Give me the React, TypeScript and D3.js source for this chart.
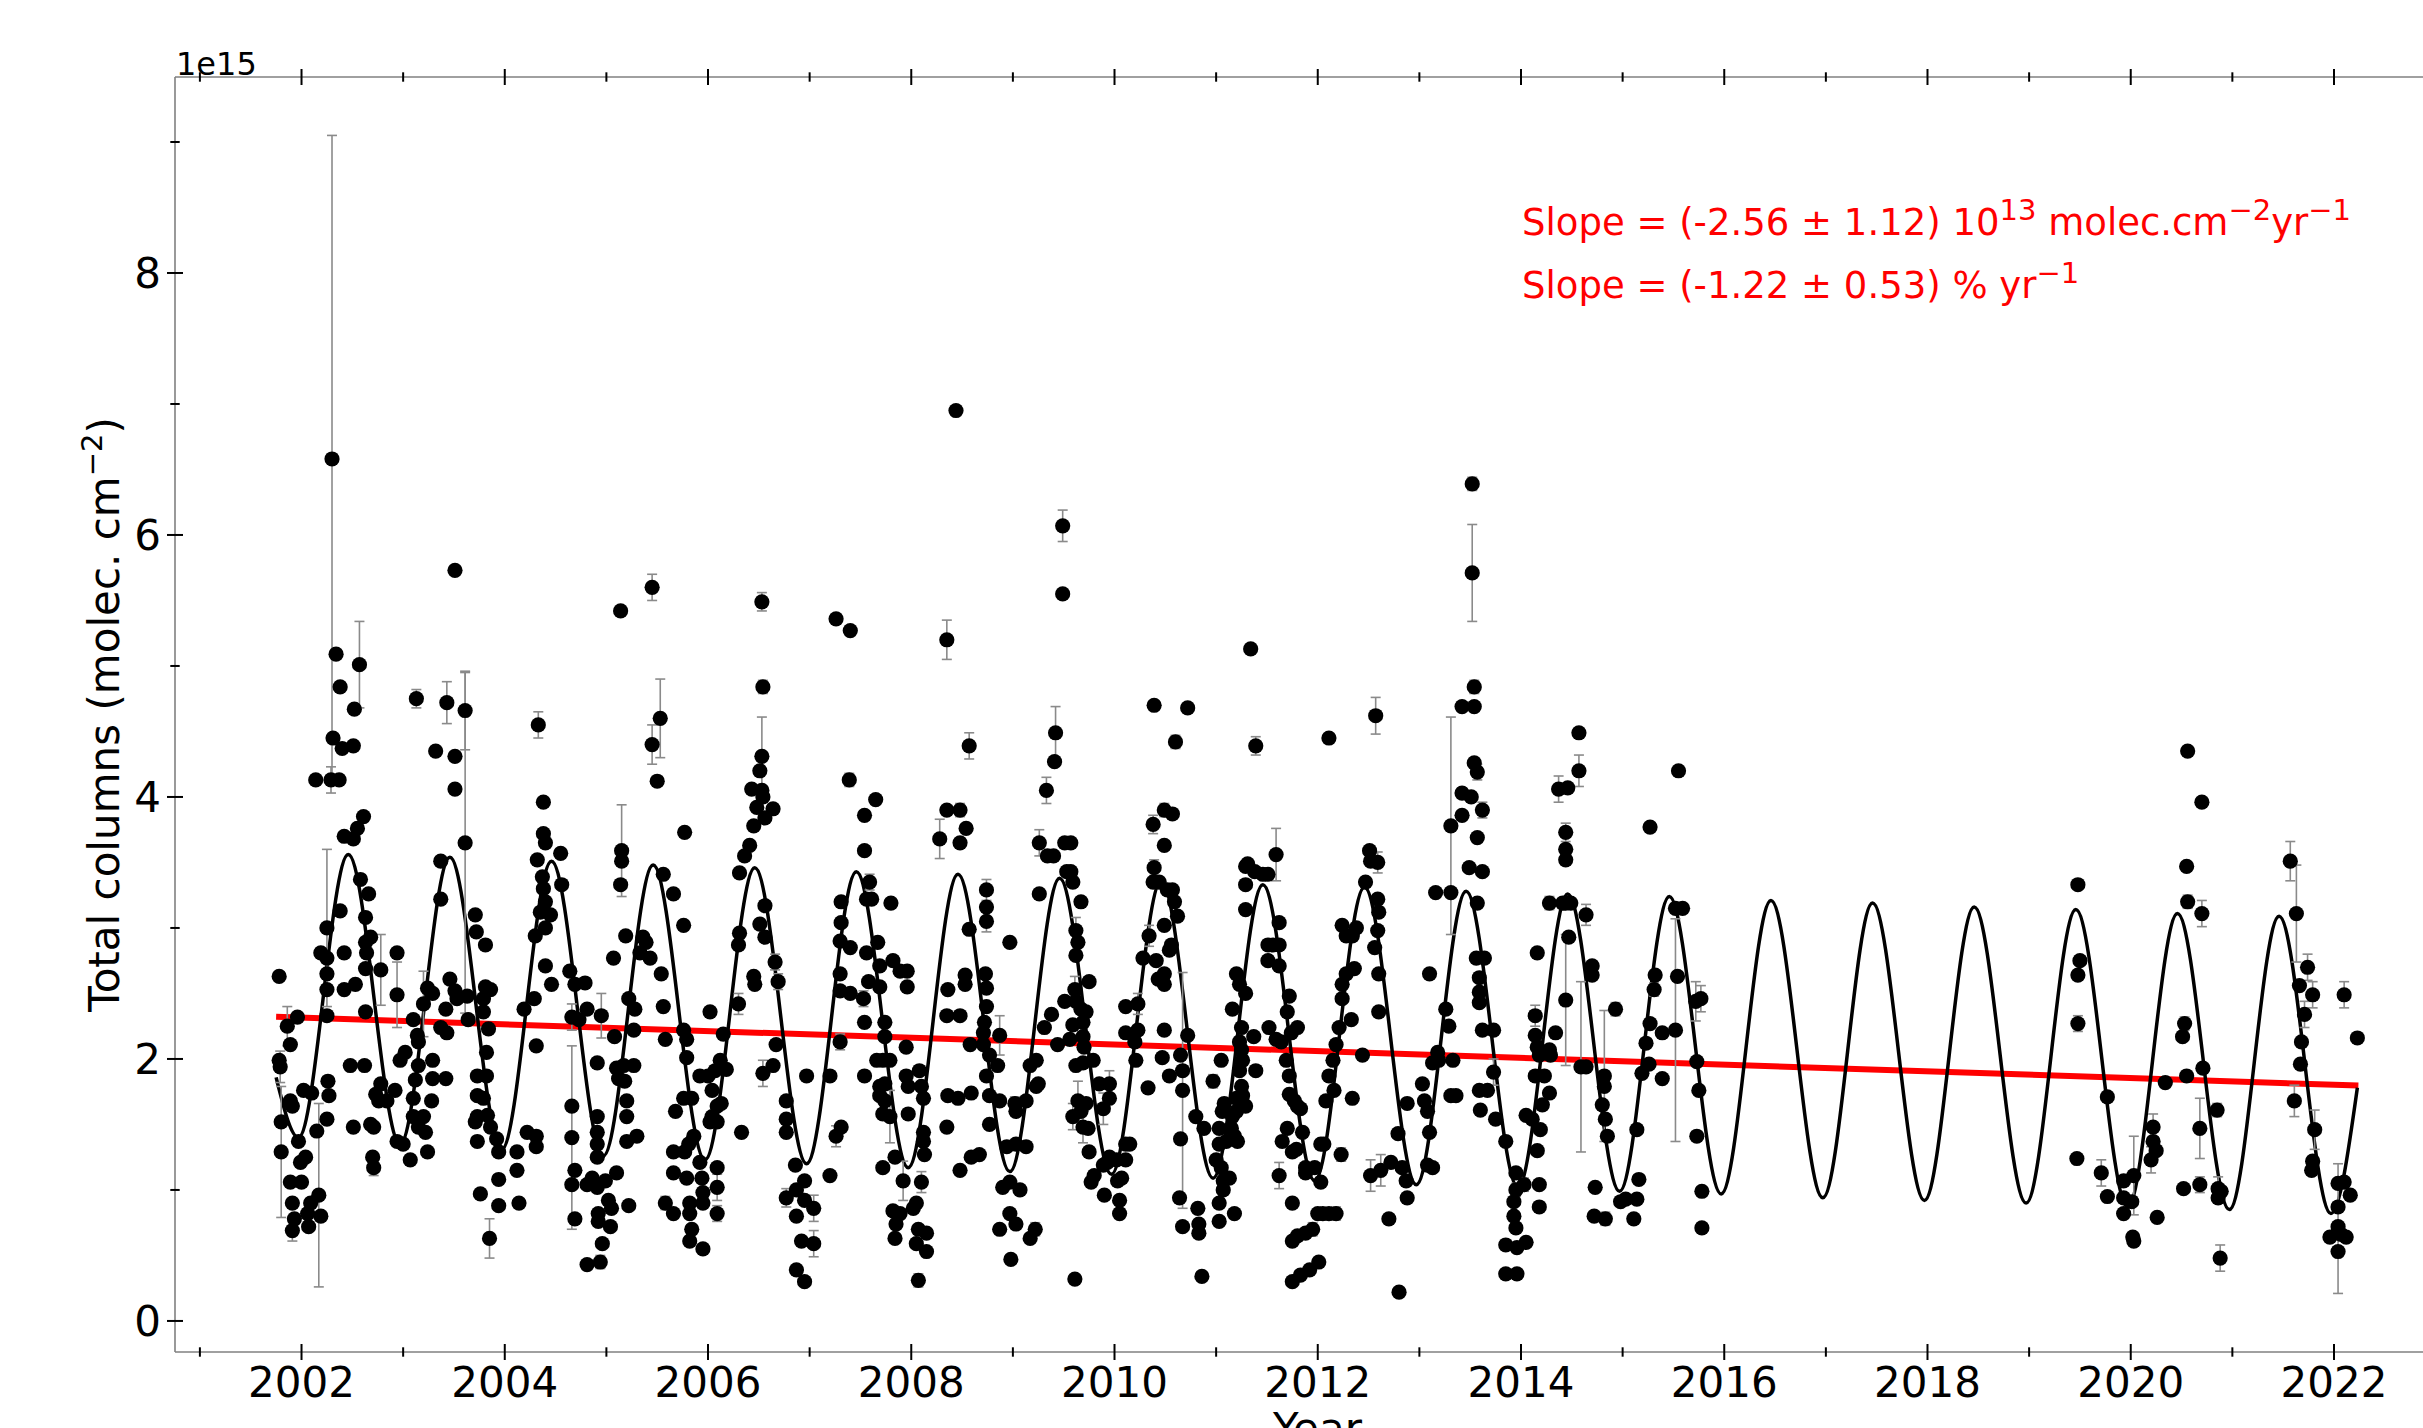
import React, { useEffect } from 'react';
import * as d3 from 'd3';

// [decimal year, total column (1e15 molec/cm2), 1-sigma error]
type Obs = [number, number, number];

const obs2001_2005: Obs[] = [
  [2001.78,2.63,0],[2001.78,1.99,0],[2001.79,1.94,0.12],[2001.80,1.52,0],[2001.80,1.29,0.5],
  [2001.86,2.25,0.15],[2001.89,2.11,0],[2001.96,2.32,0],[2001.89,1.68,0],[2001.91,1.64,0],
  [2001.89,1.06,0],[2001.91,0.90,0],[2001.91,0.69,0.08],[2001.93,0.78,0],[2001.97,1.37,0],
  [2001.99,1.21,0],[2002.00,1.06,0],[2002.04,1.25,0],[2002.06,0.82,0],[2002.07,0.72,0],
  [2002.09,0.90,0],[2002.02,1.76,0],[2002.10,1.74,0],[2002.17,0.96,0.7],[2002.15,1.45,0],
  [2002.19,0.80,0],[2002.14,4.13,0],[2002.25,3.00,0.6],[2002.19,2.81,0],[2002.25,2.77,0],
  [2002.25,2.65,0],[2002.25,2.53,0],[2002.25,2.33,0],[2002.26,1.83,0],[2002.27,1.72,0],
  [2002.25,1.54,0],[2002.29,4.13,0.1],[2002.37,4.13,0],[2002.34,5.09,0],[2002.38,4.84,0],
  [2002.52,4.67,0],[2002.57,5.01,0.33],[2002.31,4.45,0],[2002.40,4.37,0],[2002.51,4.39,0],
  [2002.30,6.58,2.47],
  [2002.42,3.70,0],[2002.51,3.68,0],[2002.55,3.76,0],[2002.61,3.85,0],[2002.38,3.13,0],
  [2002.42,2.81,0],[2002.42,2.53,0],[2002.53,2.57,0],[2002.48,1.95,0],[2002.51,1.48,0],
  [2002.62,1.95,0],[2002.63,2.36,0],[2002.58,3.37,0],[2002.66,3.26,0],[2002.63,3.08,0],
  [2002.63,2.89,0],[2002.64,2.81,0],[2002.68,2.93,0],[2002.78,2.68,0.27],[2002.63,2.69,0],
  [2002.78,1.81,0],[2002.73,1.73,0],[2002.71,1.48,0],[2002.76,1.68,0],[2002.68,1.50,0],
  [2002.70,1.25,0],[2002.71,1.17,0.06],[2002.94,2.81,0],[2002.94,2.49,0.25],[2002.84,1.68,0],
  [2002.92,1.76,0],[2002.97,1.99,0],[2003.02,2.05,0],[2002.94,1.37,0],[2003.00,1.35,0],
  [2003.07,1.23,0],[2003.10,2.30,0],[2003.14,2.18,0],[2003.15,2.13,0],[2003.15,1.95,0],
  [2003.12,1.84,0],[2003.10,1.70,0],[2003.10,1.56,0],[2003.15,1.48,0],[2003.20,1.56,0],
  [2003.22,1.44,0],[2003.24,1.29,0],[2003.20,2.42,0.25],[2003.24,2.54,0],[2003.29,2.50,0],
  [2003.29,1.99,0],[2003.29,1.85,0],[2003.28,1.68,0],[2003.42,1.85,0],[2003.32,4.35,0],
  [2003.43,4.72,0.16],[2003.13,4.75,0.07],[2003.51,4.31,0],[2003.51,4.06,0],[2003.61,4.66,0.3],
  [2003.61,3.65,1.3],[2003.51,5.73,0],
  [2003.37,3.22,0],[2003.37,3.51,0],[2003.46,2.61,0],[2003.51,2.52,0],[2003.42,2.38,0],
  [2003.53,2.46,0],[2003.63,2.48,0],[2003.64,2.30,0],[2003.37,2.24,0],[2003.43,2.20,0],
  [2003.71,3.10,0],[2003.72,2.97,0],[2003.81,2.87,0],[2003.81,2.55,0],[2003.86,2.53,0],
  [2003.79,2.46,0],[2003.79,2.36,0],[2003.84,2.23,0],[2003.82,2.05,0],[2003.82,1.87,0],
  [2003.73,1.87,0],[2003.73,1.72,0],[2003.79,1.70,0],[2003.73,1.56,0],[2003.73,1.37,0],
  [2003.71,1.52,0],[2003.83,1.57,0],[2003.86,1.48,0],[2003.92,1.39,0],[2003.94,1.29,0],
  [2003.94,1.08,0],[2003.94,0.88,0],[2003.76,0.97,0],[2003.85,0.63,0.15],
  [2004.12,1.29,0],[2004.12,1.15,0],[2004.14,0.90,0],[2004.22,1.44,0],[2004.31,1.41,0],
  [2004.31,1.33,0],[2004.19,2.38,0],[2004.31,2.10,0],[2004.29,2.46,0],[2004.40,2.71,0],
  [2004.46,2.57,0],[2004.33,4.55,0.1],[2004.38,3.96,0],[2004.38,3.72,0],[2004.40,3.65,0],
  [2004.32,3.52,0],[2004.37,3.39,0],[2004.38,3.30,0],[2004.40,3.20,0],[2004.35,3.12,0],
  [2004.45,3.10,0],[2004.30,2.94,0],[2004.40,3.00,0],[2004.55,3.57,0],[2004.56,3.33,0],
  [2004.64,2.67,0],[2004.69,2.57,0],[2004.79,2.58,0],[2004.66,2.32,0.1],[2004.73,2.30,0],
  [2004.81,2.38,0],[2004.95,2.33,0.17],[2004.66,1.64,0],[2004.66,1.40,0.7],[2004.66,1.04,0],
  [2004.69,1.15,0],[2004.69,0.78,0],[2004.81,1.04,0],[2004.91,1.97,0],[2004.91,1.56,0],
  [2004.91,1.44,0],[2004.91,1.35,0],[2004.91,1.25,0],[2004.86,1.09,0],[2004.91,1.02,0],
  [2004.92,0.82,0],[2004.92,0.76,0],[2004.96,0.59,0],[2004.94,0.45,0.05],[2004.81,0.43,0],
  [2004.99,1.07,0],[2005.02,0.92,0],[2005.04,0.72,0],[2005.05,0.86,0],[2005.10,1.13,0],
  [2005.08,2.17,0],[2005.10,1.93,0],[2005.12,1.85,0],[2005.17,1.95,0],[2005.18,1.83,0],
  [2005.20,1.68,0],[2005.20,1.56,0],[2005.20,1.37,0],[2005.22,0.88,0],[2005.27,1.95,0],
  [2005.30,1.41,0],[2005.27,2.22,0],[2005.22,2.46,0],[2005.28,2.38,0],[2005.14,5.42,0],
  [2005.15,3.59,0.35],[2005.15,3.51,0],[2005.14,3.33,0],[2005.07,2.77,0],[2005.19,2.94,0],
  [2005.33,2.81,0],[2005.36,2.93,0],[2005.39,2.89,0],[2005.43,2.77,0],[2005.45,5.60,0.1],
  [2005.45,4.40,0.15],[2005.50,4.12,0],[2005.53,4.60,0.3],[2005.56,3.41,0],[2005.54,2.65,0],
  [2005.56,2.40,0],[2005.58,2.15,0],
];

const obs2005_2009: Obs[] = [
  [2005.66,3.26,0],[2005.76,3.02,0],[2005.77,3.73,0],[2005.76,2.22,0],[2005.79,2.15,0],
  [2005.79,2.01,0],[2005.68,1.60,0],[2005.76,1.70,0],[2005.84,1.70,0],[2005.77,1.29,0],
  [2005.86,1.41,0],[2005.66,1.29,0],[2005.66,1.13,0],[2005.79,1.09,0],[2005.81,1.35,0],
  [2005.58,0.90,0.05],[2005.66,0.82,0],[2005.82,0.90,0],[2005.82,0.82,0],[2005.84,0.70,0],
  [2005.82,0.61,0],[2005.95,0.55,0],[2005.92,1.87,0],[2005.92,1.21,0],[2005.94,1.09,0],
  [2005.95,0.98,0],[2005.95,0.90,0],[2006.00,1.87,0],[2006.02,2.36,0],[2006.04,1.76,0],
  [2006.02,1.52,0],[2006.04,1.56,0],[2006.07,1.91,0],[2006.09,1.64,0],[2006.09,1.52,0],
  [2006.09,1.17,0],[2006.09,1.02,0.1],[2006.09,0.82,0.06],[2006.12,1.99,0],[2006.13,1.66,0],
  [2006.15,2.19,0],[2006.18,1.92,0],[2006.30,2.42,0.08],[2006.33,1.44,0],[2006.30,2.87,0],
  [2006.31,2.96,0],[2006.31,3.42,0],[2006.36,3.55,0],[2006.41,3.63,0],[2006.45,3.78,0],
  [2006.48,3.92,0],[2006.43,4.06,0],[2006.53,4.05,0],[2006.54,4.00,0],[2006.56,3.84,0],
  [2006.64,3.91,0],[2006.51,4.20,0],[2006.53,4.31,0.3],[2006.54,4.84,0.05],[2006.53,5.49,0.07],
  [2006.45,2.63,0],[2006.46,2.57,0],[2006.56,3.17,0],[2006.51,3.03,0],[2006.56,2.93,0],
  [2006.54,1.89,0.1],[2006.64,1.95,0],[2006.66,2.74,0.06],[2006.69,2.59,0.06],[2006.67,2.11,0],
  [2006.77,1.68,0],[2006.77,1.54,0],[2006.77,1.44,0],[2006.86,1.19,0],[2006.95,1.07,0],
  [2006.77,0.94,0.07],[2006.87,1.00,0],[2006.87,0.80,0],[2006.95,0.92,0],[2007.04,0.86,0.1],
  [2006.92,0.61,0],[2007.04,0.59,0.1],[2006.87,0.39,0],[2006.95,0.30,0],[2006.97,1.87,0],
  [2007.20,1.87,0],[2007.20,1.11,0],[2007.26,1.41,0.08],[2007.31,1.48,0],[2007.30,2.13,0.06],
  [2007.30,2.52,0],[2007.30,2.65,0],[2007.30,2.90,0],[2007.31,3.04,0],[2007.31,3.20,0],
  [2007.40,2.50,0],[2007.40,2.85,0],[2007.26,5.36,0],[2007.40,5.27,0],[2007.39,4.13,0.05],
  [2007.54,3.86,0],[2007.65,3.98,0],[2007.54,3.59,0],[2007.59,3.35,0.06],[2007.56,3.22,0],
  [2007.61,3.22,0],[2007.56,2.81,0],[2007.58,2.59,0],[2007.53,2.46,0.06],[2007.54,2.28,0],
  [2007.67,2.89,0],[2007.69,2.71,0],[2007.69,2.55,0],[2007.80,3.19,0],[2007.82,2.75,0],
  [2007.89,2.67,0],[2007.96,2.67,0],[2007.96,2.55,0],[2007.74,2.28,0],[2007.74,2.17,0],
  [2007.66,1.99,0],[2007.72,1.99,0],[2007.79,1.99,0],[2007.54,1.87,0],[2007.69,1.79,0],
  [2007.74,1.81,0],[2007.69,1.72,0],[2007.74,1.68,0],[2007.72,1.58,0],[2007.79,1.56,0.2],
  [2007.95,2.09,0],[2007.95,1.87,0],[2007.97,1.79,0],[2008.08,1.91,0],[2008.10,1.79,0],
  [2008.12,1.70,0],[2007.97,1.58,0],[2008.12,1.44,0],[2008.12,1.37,0],[2008.13,1.27,0],
  [2007.72,1.17,0],[2007.84,1.25,0],[2007.92,1.07,0.15],[2007.82,0.84,0],[2007.89,0.82,0],
  [2007.85,0.74,0],[2007.84,0.63,0],[2008.02,0.86,0],[2008.05,0.90,0],[2008.10,1.06,0.08],
  [2008.07,0.70,0],[2008.05,0.59,0],[2008.15,0.67,0],[2008.15,0.53,0],[2008.07,0.31,0.05],
  [2008.28,3.68,0.15],[2008.35,3.90,0],[2008.48,3.90,0.05],[2008.54,3.76,0],[2008.48,3.65,0],
  [2008.57,4.39,0.1],[2008.35,5.20,0.15],[2008.44,6.95,0],[2008.36,2.53,0],[2008.35,2.33,0],
  [2008.48,2.33,0],[2008.57,2.99,0],[2008.53,2.64,0],[2008.53,2.57,0],[2008.74,3.29,0.08],
  [2008.74,3.16,0],[2008.74,3.05,0.08],[2008.73,2.65,0],[2008.74,2.54,0],[2008.74,2.40,0],
  [2008.72,2.28,0],[2008.87,2.18,0.15],[2008.71,2.20,0],[2008.58,2.11,0],[2008.71,2.11,0],
  [2008.77,2.03,0],[2008.74,1.87,0],[2008.85,1.95,0],[2008.77,1.72,0],[2008.36,1.72,0],
  [2008.46,1.70,0],[2008.59,1.74,0],[2008.35,1.48,0],[2008.77,1.50,0],[2008.48,1.15,0],
  [2008.59,1.25,0],[2008.67,1.27,0],[2008.97,2.89,0],[2008.87,1.68,0],[2009.02,1.66,0.05],
  [2009.03,1.60,0],[2009.13,1.68,0],[2009.17,1.95,0],[2009.23,1.79,0],[2009.23,1.99,0],
  [2009.31,2.24,0],[2009.38,2.34,0],[2009.25,1.81,0],[2008.94,1.33,0],[2009.03,1.35,0],
  [2009.13,1.33,0],[2008.90,1.02,0],[2008.97,1.06,0],[2009.07,1.00,0],[2008.97,0.82,0],
  [2008.87,0.70,0],[2009.03,0.74,0],[2009.17,0.63,0],[2009.22,0.70,0.05],[2008.98,0.47,0],
  [2009.26,3.65,0.1],[2009.26,3.26,0],[2009.34,3.55,0],[2009.33,4.05,0.1],[2009.41,4.27,0],
  [2009.42,4.49,0.2],[2009.40,3.55,0],[2009.51,3.65,0],[2009.53,3.43,0],[2009.44,2.11,0],
  [2009.49,5.55,0],[2009.49,6.07,0.12],
];

const obs2009_2013: Obs[] = [
  [2009.51,2.44,0],[2009.57,3.65,0],[2009.57,3.43,0],[2009.59,3.35,0],[2009.67,3.20,0],
  [2009.62,2.98,0.1],[2009.64,2.89,0],[2009.62,2.79,0],[2009.75,2.59,0],[2009.61,2.53,0.1],
  [2009.62,2.44,0],[2009.67,2.38,0],[2009.59,2.26,0],[2009.69,2.28,0],[2009.72,2.36,0],
  [2009.69,2.17,0],[2009.56,2.15,0],[2009.70,2.09,0],[2009.62,1.95,0],[2009.69,1.97,0],
  [2009.79,1.99,0],[2009.64,1.68,0.15],[2009.72,1.66,0],[2009.67,1.60,0],[2009.59,1.56,0.1],
  [2009.69,1.48,0.12],[2009.74,1.47,0],[2009.75,1.29,0],[2009.85,1.81,0],[2009.95,1.81,0.1],
  [2009.95,1.70,0],[2009.89,1.62,0.12],[2009.77,1.06,0],[2009.80,1.11,0],[2009.89,1.19,0],
  [2009.95,1.25,0],[2009.90,0.96,0],[2009.93,1.21,0],[2010.02,1.23,0],[2010.05,0.92,0],
  [2010.05,0.82,0],[2010.03,1.07,0],[2010.07,1.09,0],[2010.11,1.35,0],[2010.11,1.23,0],
  [2010.15,1.35,0],[2009.61,0.32,0],[2010.11,2.40,0],[2010.23,2.42,0.08],[2010.23,2.22,0],
  [2010.11,2.20,0],[2010.20,2.13,0],[2010.21,1.99,0],[2010.33,1.78,0],[2010.28,2.77,0],
  [2010.41,2.75,0],[2010.43,2.61,0],[2010.49,2.65,0],[2010.49,2.57,0],[2010.34,2.94,0.08],
  [2010.49,3.02,0],[2010.54,2.83,0],[2010.56,2.87,0],[2010.38,3.35,0],[2010.39,3.46,0.06],
  [2010.44,3.35,0],[2010.38,3.79,0.07],[2010.49,3.63,0],[2010.52,3.29,0],[2010.57,3.29,0],
  [2010.59,3.20,0],[2010.62,3.09,0],[2010.49,3.90,0.05],[2010.57,3.87,0],[2010.39,4.70,0],
  [2010.72,4.68,0],[2010.60,4.42,0.05],[2010.49,2.22,0],[2010.47,2.01,0],[2010.54,1.87,0],
  [2010.65,2.03,0],[2010.72,2.18,0],[2010.67,1.91,0],[2010.65,1.39,0],[2010.67,1.76,0.9],
  [2010.64,0.94,0],[2010.67,0.72,0],[2010.82,0.86,0],[2010.83,0.74,0],[2010.83,0.67,0],
  [2010.86,0.34,0],[2010.80,1.56,0],[2010.88,1.47,0],[2010.97,1.83,0.05],[2011.05,1.99,0],
  [2011.06,1.60,0],[2011.03,1.47,0],[2011.08,1.66,0],[2011.03,1.35,0],[2011.00,1.23,0],
  [2011.05,1.17,0],[2011.07,1.07,0],[2011.07,1.00,0],[2011.03,0.90,0],[2011.03,0.76,0],
  [2011.18,0.82,0],[2011.13,1.09,0],[2011.10,1.37,0],[2011.16,1.56,0],[2011.18,1.41,0],
  [2011.15,1.47,0],[2011.20,1.60,0],[2011.21,1.37,0],[2011.26,1.72,0],[2011.29,1.64,0],
  [2011.20,1.70,0],[2011.25,1.79,0],[2011.23,1.91,0],[2011.26,1.99,0],[2011.16,2.38,0],
  [2011.20,2.65,0],[2011.23,2.57,0],[2011.29,2.50,0],[2011.25,2.24,0],[2011.23,2.13,0],
  [2011.25,2.07,0],[2011.29,3.14,0],[2011.29,3.47,0],[2011.29,3.33,0],[2011.31,3.49,0],
  [2011.37,2.17,0],[2011.39,1.91,0],[2011.38,3.43,0],[2011.46,3.41,0],[2011.51,3.41,0],
  [2011.59,3.56,0.2],[2011.34,5.13,0],[2011.39,4.39,0.07],[2011.51,2.87,0],[2011.56,2.87,0],
  [2011.62,2.87,0],[2011.51,2.75,0],[2011.62,2.71,0],[2011.52,2.24,0],[2011.59,2.15,0],
  [2011.64,2.13,0],[2011.62,3.04,0],[2011.70,2.36,0],[2011.72,2.48,0],[2011.74,2.20,0],
  [2011.80,2.24,0],[2011.69,1.99,0],[2011.72,1.87,0],[2011.72,1.73,0],[2011.77,1.68,0],
  [2011.80,1.64,0],[2011.83,1.62,0],[2011.85,1.44,0],[2011.65,1.37,0],[2011.70,1.47,0],
  [2011.75,1.29,0],[2011.79,1.31,0],[2011.88,1.17,0],[2011.88,1.13,0],[2011.62,1.11,0.1],
  [2011.75,0.90,0],[2012.03,1.35,0],[2012.06,1.35,0],[2012.23,1.27,0.05],[2012.03,1.06,0],
  [2011.97,1.17,0],[2012.05,0.82,0],[2011.75,0.61,0],[2011.80,0.65,0],[2011.88,0.67,0],
  [2011.95,0.70,0.05],[2012.00,0.82,0],[2012.11,0.82,0],[2012.18,0.82,0.05],[2012.01,0.45,0],
  [2011.92,0.39,0],[2011.83,0.35,0],[2011.75,0.30,0],[2012.11,4.45,0],[2012.57,4.62,0.14],
  [2012.08,1.68,0],[2012.11,1.87,0],[2012.16,1.76,0],[2012.15,1.99,0],[2012.18,2.11,0],
  [2012.21,2.24,0],[2012.24,2.57,0],[2012.24,2.46,0],[2012.28,2.65,0],[2012.24,3.02,0],
  [2012.28,2.94,0],[2012.34,2.94,0],[2012.33,2.30,0],[2012.34,1.70,0],[2012.36,2.69,0],
  [2012.38,3.00,0],[2012.44,2.03,0],[2012.51,3.59,0],[2012.52,3.51,0],[2012.59,3.50,0.08],
  [2012.59,3.22,0],[2012.60,3.12,0],[2012.59,2.98,0],[2012.56,2.85,0],[2012.60,2.65,0],
  [2012.47,3.35,0],[2012.60,2.36,0],[2012.52,1.11,0.12],[2012.62,1.15,0.12],[2012.72,1.21,0],
  [2012.70,0.78,0],[2012.80,0.22,0],[2012.83,1.17,0],[2012.87,1.07,0],[2012.88,0.94,0],
  [2012.79,1.43,0],[2012.88,1.66,0],[2013.03,1.81,0],[2013.05,1.68,0],[2013.08,1.60,0],
  [2013.08,1.19,0],[2013.13,1.17,0],[2013.10,1.44,0],[2013.13,1.97,0],[2013.18,2.05,0],
  [2013.19,1.99,0],[2013.10,2.65,0],[2013.16,3.27,0],[2013.26,2.38,0],[2013.31,3.78,0.83],
  [2013.31,3.27,0],[2013.33,1.99,0],
];

const obs2013_2016: Obs[] = [
  [2013.29,2.25,0],[2013.31,1.72,0],[2013.36,1.72,0],
  [2013.42,4.69,0],[2013.54,4.69,0],[2013.54,4.84,0.05],[2013.52,6.39,0.05],[2013.52,5.71,0.37],
  [2013.54,4.26,0],[2013.57,4.19,0.06],[2013.42,4.03,0.04],[2013.51,4.00,0],[2013.42,3.86,0],
  [2013.57,3.69,0],[2013.62,3.90,0.06],[2013.49,3.46,0],[2013.62,3.43,0],[2013.57,3.19,0],
  [2013.56,2.77,0],[2013.64,2.77,0],[2013.59,2.62,0],[2013.59,2.51,0],[2013.59,2.43,0],
  [2013.62,2.22,0],[2013.73,2.22,0],[2013.59,1.76,0],[2013.67,1.76,0],[2013.60,1.61,0],
  [2013.73,1.90,0.1],[2013.75,1.54,0],[2013.85,1.37,0],[2013.95,1.13,0],[2013.95,1.00,0.05],
  [2013.93,0.91,0],[2013.93,0.80,0],[2013.95,0.71,0],[2013.85,0.58,0],[2014.03,1.04,0.05],
  [2014.05,0.60,0],[2013.85,0.36,0],[2013.96,0.36,0],[2013.96,0.56,0],[2014.05,1.57,0],
  [2014.11,1.54,0],[2014.19,1.46,0],[2014.18,1.04,0],[2014.18,0.87,0],[2014.16,1.30,0],
  [2014.21,1.65,0],[2014.23,1.87,0],[2014.14,1.87,0],[2014.16,2.09,0.08],[2014.18,2.03,0],
  [2014.14,2.18,0],[2014.14,2.33,0.08],[2014.28,1.74,0],[2014.29,2.03,0],[2014.28,2.07,0],
  [2014.34,2.20,0],[2014.16,2.81,0],[2014.28,3.19,0.05],[2014.37,4.06,0.1],[2014.46,4.07,0],
  [2014.44,3.73,0.07],[2014.44,3.60,0],[2014.44,3.52,0],[2014.41,3.19,0],[2014.44,3.19,0],
  [2014.49,3.19,0],[2014.47,2.93,0],[2014.44,2.45,0.5],[2014.57,4.49,0],[2014.57,4.20,0.12],
  [2014.64,3.10,0.08],[2014.70,2.71,0],[2014.70,2.64,0],[2014.59,1.94,0.65],[2014.64,1.94,0],
  [2014.82,1.87,0.5],[2014.82,1.79,0],[2014.80,1.65,0],[2014.83,1.54,0],[2014.85,1.41,0],
  [2014.93,2.38,0.05],[2014.73,1.02,0],[2014.72,0.80,0],[2014.83,0.78,0.05],[2014.98,0.91,0],
  [2015.03,0.93,0],[2015.14,0.93,0],[2015.11,0.78,0],[2015.16,1.08,0],[2015.14,1.46,0],
  [2015.19,1.89,0],[2015.23,2.12,0],[2015.26,1.96,0],[2015.27,2.27,0],[2015.31,2.53,0.05],
  [2015.32,2.64,0],[2015.39,2.20,0],[2015.39,1.85,0],[2015.27,3.77,0],[2015.52,3.15,0],
  [2015.59,3.15,0],[2015.55,4.20,0],[2015.54,2.63,0],[2015.52,2.22,0.85],[2015.72,2.44,0.15],
  [2015.77,2.46,0.1],[2015.73,1.98,0],[2015.75,1.76,0],[2015.73,1.41,0],[2015.78,0.99,0],
  [2015.78,0.71,0],
];

const obs2019_2022: Obs[] = [
  [2019.48,3.33,0],[2019.50,2.75,0],[2019.48,2.64,0],[2019.48,2.27,0.06],[2019.47,1.24,0],
  [2019.77,1.71,0],[2019.71,1.13,0.1],[2019.77,0.95,0],[2019.93,1.07,0],[2019.93,0.94,0],
  [2019.93,0.82,0],[2020.03,1.11,0.3],[2020.01,0.91,0],[2020.02,0.64,0],[2020.03,0.61,0],
  [2020.22,1.48,0.1],[2020.22,1.37,0],[2020.25,1.30,0],[2020.20,1.23,0.1],[2020.26,0.79,0],
  [2020.34,1.82,0],[2020.55,3.47,0],[2020.56,4.35,0],[2020.70,3.96,0],[2020.56,3.20,0.05],
  [2020.70,3.11,0.1],[2020.53,2.27,0.05],[2020.51,2.17,0],[2020.55,1.87,0],[2020.71,1.93,0],
  [2020.52,1.01,0],[2020.68,1.04,0.06],[2020.68,1.47,0.23],[2020.85,1.61,0.05],[2020.86,1.01,0.09],
  [2020.89,0.99,0],[2020.86,0.94,0],[2020.88,0.48,0.1],[2021.57,3.51,0.15],[2021.63,3.11,0.37],
  [2021.74,2.70,0.1],[2021.66,2.56,0],[2021.79,2.49,0.1],[2021.71,2.34,0.1],[2021.68,2.13,0],
  [2021.67,1.96,0],[2021.61,1.68,0.12],[2021.81,1.46,0.15],[2021.79,1.22,0],[2021.78,1.15,0],
  [2022.04,1.05,0.15],[2022.10,1.06,0],[2022.16,0.96,0],[2022.04,0.87,0],[2021.96,0.64,0],
  [2022.04,0.72,0],[2022.07,0.66,0],[2022.12,0.64,0],[2022.04,0.53,0.32],[2022.10,2.49,0.1],
  [2022.23,2.16,0],
];

const fitPeakYears = [2002.46,2003.46,2004.46,2005.46,2006.46,2007.46,2008.46,2009.46,2010.46,2011.46,
  2012.46,2013.46,2014.46,2015.46,2016.46,2017.46,2018.46,2019.46,2020.46,2021.46];
const fitPeakValues = [3.56,3.54,3.51,3.48,3.46,3.43,3.41,3.38,3.36,3.33,
  3.31,3.28,3.26,3.24,3.21,3.19,3.16,3.14,3.11,3.09];
const fitTroughYears = [2001.97,2002.97,2003.97,2004.97,2005.97,2006.97,2007.97,2008.97,2009.97,2010.97,
  2011.97,2012.97,2013.97,2014.97,2015.97,2016.97,2017.97,2018.97,2019.97,2020.97,2021.97];
const fitTroughValues = [1.40,1.35,1.31,1.26,1.23,1.20,1.17,1.14,1.12,1.09,
  1.07,1.04,1.02,0.99,0.97,0.94,0.92,0.90,0.87,0.85,0.82];
const fitStart = [2001.75, 1.86];
const fitEnd = [2022.23, 1.78];

// linear trend
const trendYears = [2001.75, 2022.24];
const trendValues = [2.322, 1.797];

const yearMajor = [2002,2004,2006,2008,2010,2012,2014,2016,2018,2020,2022];
const yearMinor = [2001,2003,2005,2007,2009,2011,2013,2015,2017,2019,2021,2023];
const valueMajor = [0,2,4,6,8];
const valueMinor = [1,3,5,7,9];

const W = 2423;
const H = 1428;
const plot = { left: 175, right: 2460, top: 77, bottom: 1352 };
const FONT = 'DejaVu Sans, sans-serif';

export default function App() {
  useEffect(() => {
    document.body.style.margin = '0';
    document.body.style.overflow = 'hidden';
  }, []);

  const x = d3.scaleLinear().domain([2000.755, 2023.24]).range([plot.left, plot.right]);
  const y = d3.scaleLinear().domain([-0.237, 9.496]).range([plot.bottom, plot.top]);

  const obs = [...obs2001_2005, ...obs2005_2009, ...obs2009_2013, ...obs2013_2016, ...obs2019_2022];

  const knots: [number, number][] = [fitStart as [number, number], fitEnd as [number, number]];
  fitPeakYears.forEach((t, i) => knots.push([t, fitPeakValues[i]]));
  fitTroughYears.forEach((t, i) => knots.push([t, fitTroughValues[i]]));
  knots.sort((a, b) => a[0] - b[0]);

  const fitPath = d3.line<[number, number]>()
    .x(d => x(d[0]))
    .y(d => y(d[1]))
    .curve(d3.curveMonotoneX)(knots);

  const trendPath = d3.line<number>()
    .x(d => x(trendYears[d]))
    .y(d => y(trendValues[d]))([0, 1]);

  const cap = 5;

  return (
    <svg width={W} height={H} style={{ position: 'absolute', left: 0, top: 0, background: '#fff' }}
      fontFamily={FONT}>
      <rect x={0} y={0} width={W} height={H} fill="#fff" />

      {/* trend */}
      <path d={trendPath || ''} stroke="#ff0000" strokeWidth={6} fill="none" />

      {/* seasonal fit */}
      <path d={fitPath || ''} stroke="#000" strokeWidth={3.5} fill="none" />

      {/* error bars */}
      <g stroke="#8a8a8a" strokeWidth={1.6}>
        {obs.filter(d => d[2] > 0).map((d, i) => {
          const cx = x(d[0]);
          const y0 = y(d[1] - d[2]);
          const y1 = y(d[1] + d[2]);
          return (
            <g key={i}>
              <line x1={cx} x2={cx} y1={y0} y2={y1} />
              <line x1={cx - cap} x2={cx + cap} y1={y0} y2={y0} />
              <line x1={cx - cap} x2={cx + cap} y1={y1} y2={y1} />
            </g>
          );
        })}
      </g>

      {/* observations */}
      <g fill="#000">
        {obs.map((d, i) => (
          <circle key={i} cx={x(d[0])} cy={y(d[1])} r={7.6} />
        ))}
      </g>

      {/* spines */}
      <g stroke="#808080" strokeWidth={1.6} fill="none">
        <line x1={plot.left} x2={plot.left} y1={plot.top} y2={plot.bottom} />
        <line x1={plot.left} x2={plot.right} y1={plot.top} y2={plot.top} />
        <line x1={plot.left} x2={plot.right} y1={plot.bottom} y2={plot.bottom} />
        <line x1={plot.right} x2={plot.right} y1={plot.top} y2={plot.bottom} />
      </g>

      {/* ticks */}
      <g stroke="#000" strokeWidth={2}>
        {yearMajor.map(t => (
          <g key={'xM' + t}>
            <line x1={x(t)} x2={x(t)} y1={plot.bottom - 8} y2={plot.bottom + 8} />
            <line x1={x(t)} x2={x(t)} y1={plot.top - 8} y2={plot.top + 8} />
          </g>
        ))}
        {yearMinor.map(t => (
          <g key={'xm' + t}>
            <line x1={x(t)} x2={x(t)} y1={plot.bottom - 4.7} y2={plot.bottom + 4.7} />
            <line x1={x(t)} x2={x(t)} y1={plot.top - 4.7} y2={plot.top + 4.7} />
          </g>
        ))}
        {valueMajor.map(v => (
          <line key={'yM' + v} x1={plot.left - 8} x2={plot.left + 8} y1={y(v)} y2={y(v)} />
        ))}
        {valueMinor.map(v => (
          <line key={'ym' + v} x1={plot.left - 4.7} x2={plot.left + 4.7} y1={y(v)} y2={y(v)} />
        ))}
      </g>

      {/* tick labels */}
      <g fontSize={42} fill="#000">
        {yearMajor.map(t => (
          <text key={'xl' + t} x={x(t)} y={1397} textAnchor="middle">{t}</text>
        ))}
        {valueMajor.map(v => (
          <text key={'yl' + v} x={plot.left - 14} y={y(v) + 15} textAnchor="end">{v}</text>
        ))}
      </g>

      <text x={176} y={75} fontSize={32}>1e15</text>

      {/* axis labels */}
      <text transform={`translate(119, ${(plot.top + plot.bottom) / 2}) rotate(-90)`} fontSize={42}
        textAnchor="middle">
        Total columns (molec. cm<tspan dy={-17} fontSize={29}>−2</tspan><tspan dy={17}>)</tspan>
      </text>
      <text x={(plot.left + plot.right) / 2} y={1443} fontSize={42} textAnchor="middle">Year</text>

      {/* slope annotations */}
      <g fill="#ff0000" fontSize={37}>
        <text x={1522} y={235}>
          Slope = (-2.56 ± 1.12) 10<tspan dy={-15} fontSize={29}>13</tspan>
          <tspan dy={15}> molec.cm</tspan><tspan dy={-15} fontSize={29}>−2</tspan>
          <tspan dy={15}>yr</tspan><tspan dy={-15} fontSize={29}>−1</tspan>
        </text>
        <text x={1522} y={298}>
          Slope = (-1.22 ± 0.53) % yr<tspan dy={-15} fontSize={29}>−1</tspan>
        </text>
      </g>
    </svg>
  );
}
